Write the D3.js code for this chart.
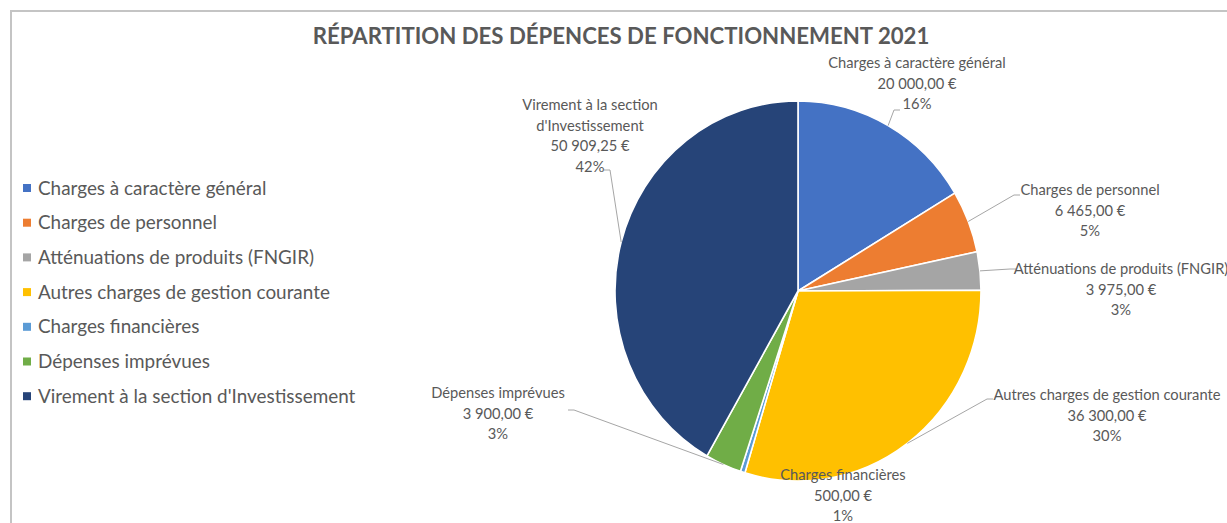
<!DOCTYPE html>
<html>
<head>
<meta charset="utf-8">
<script src="https://cdn.jsdelivr.net/npm/d3@7"></script>
<style>
  body { margin: 0; background: #fff; }
  svg { display: block; font-family: Lato, "Open Sans", sans-serif; }
</style>
</head>
<body>
<div id="chart"></div>
<script>
// data
var categories = [
  "Charges à caractère général",
  "Charges de personnel",
  "Atténuations de produits (FNGIR)",
  "Autres charges de gestion courante",
  "Charges financières",
  "Dépenses imprévues",
  "Virement à la section d'Investissement"
];
var amounts = [20000, 6465, 3975, 36300, 500, 3900, 50909.25];
var percents = [16, 5, 3, 30, 1, 3, 42];
var colors = ["#4472C4", "#ED7D31", "#A5A5A5", "#FFC000", "#5B9BD5", "#70AD47", "#264478"];
var title = "RÉPARTITION DES DÉPENCES DE FONCTIONNEMENT 2021";

// label placement (centre x, first baseline y, leader target)
var labelLayout = [
  { x: 917, y: 68, lead: { x: 900, y: 110, dir: -1 } },
  { x: 1090, y: 195, lead: { x: 1020, y: 195, dir: -1 } },
  { x: 1121, y: 274, lead: { x: 1016, y: 269, dir: -1 } },
  { x: 1107, y: 400, lead: { x: 993, y: 399, dir: -1 } },
  { x: 843, y: 480, lead: null },
  { x: 498, y: 398, lead: { x: 568, y: 410, dir: 1 } },
  { x: 590, y: 110, lead: { x: 604, y: 170, dir: 1 }, maxW: 150 }
];

var W = 1227, H = 523;
var cx = 798, cy = 291, rx = 183, ry = 190;
var textColor = "#595959";

var fr = d3.formatLocale({ decimal: ",", thousands: " ", grouping: [3], currency: ["", " €"] });
var fmtEuro = fr.format("$,.2f");

var svg = d3.select("#chart").append("svg")
  .attr("width", W)
  .attr("height", H);

// chart frame (only top and left edges show)
svg.append("path")
  .attr("d", "M11,523 L11,11 L1227,11")
  .attr("fill", "none")
  .attr("stroke", "#c4c4c4")
  .attr("stroke-width", 2);

// Title
svg.append("text")
  .attr("x", 621)
  .attr("y", 44)
  .attr("text-anchor", "middle")
  .attr("font-size", "22.2px")
  .attr("font-weight", "bold")
  .attr("fill", textColor)
  .text(title);

// Pie
var data = categories.map(function (c, i) {
  return { name: c, value: amounts[i], pct: percents[i], color: colors[i], i: i };
});

var pie = d3.pie().sort(null).value(function (d) { return d.value; });
var arcs = pie(data);

var arc = d3.arc().innerRadius(0).outerRadius(rx);

var pieG = svg.append("g")
  .attr("transform", "translate(" + cx + "," + cy + ") scale(1," + (ry / rx) + ")");

pieG.selectAll("path")
  .data(arcs)
  .enter()
  .append("path")
  .attr("d", arc)
  .attr("fill", function (d) { return d.data.color; })
  .attr("stroke", "#fff")
  .attr("stroke-width", 1.6)
  .attr("vector-effect", "non-scaling-stroke");

// leader lines
var leaders = svg.append("g");
arcs.forEach(function (a, i) {
  var L = labelLayout[i].lead;
  if (!L) return;
  var mid = (a.startAngle + a.endAngle) / 2;
  var px = cx + rx * Math.sin(mid);
  var py = cy - ry * Math.cos(mid);
  var ex = L.x + L.dir * 6;
  leaders.append("path")
    .attr("d", "M" + px + "," + py + " L" + ex + "," + L.y + " L" + L.x + "," + L.y)
    .attr("fill", "none")
    .attr("stroke", "#a6a6a6")
    .attr("stroke-width", 1);
});

// data labels
var lblG = svg.append("g")
  .attr("font-size", "14.7px")
  .attr("fill", textColor)
  .attr("text-anchor", "middle");

arcs.forEach(function (a, i) {
  var lay = labelLayout[i];
  var t = lblG.append("text").attr("x", lay.x).attr("y", lay.y);
  var lines = [a.data.name];
  if (lay.maxW) {
    // wrap the name on words
    var words = a.data.name.split(" ");
    lines = [];
    var cur = "";
    var probe = t.append("tspan");
    words.forEach(function (w) {
      var test = cur ? cur + " " + w : w;
      probe.text(test);
      if (probe.node().getComputedTextLength() > lay.maxW && cur) {
        lines.push(cur);
        cur = w;
      } else {
        cur = test;
      }
    });
    lines.push(cur);
    probe.remove();
  }
  lines.push(fmtEuro(a.data.value));
  lines.push(a.data.pct + "%");
  lines.forEach(function (l, k) {
    t.append("tspan")
      .attr("x", lay.x)
      .attr("dy", k === 0 ? 0 : 20.6)
      .text(l);
  });
});

// Legend
var legend = svg.append("g")
  .attr("transform", "translate(23,188)");

var rowH = 34.7;
var item = legend.selectAll("g")
  .data(data)
  .enter()
  .append("g")
  .attr("transform", function (d, i) { return "translate(0," + (i * rowH) + ")"; });

item.append("rect")
  .attr("x", 0)
  .attr("y", -4)
  .attr("width", 8)
  .attr("height", 8)
  .attr("fill", function (d) { return d.color; });

item.append("text")
  .attr("x", 15)
  .attr("y", 6.5)
  .attr("font-size", "18.9px")
  .attr("fill", textColor)
  .text(function (d) { return d.name; });
</script>
</body>
</html>
